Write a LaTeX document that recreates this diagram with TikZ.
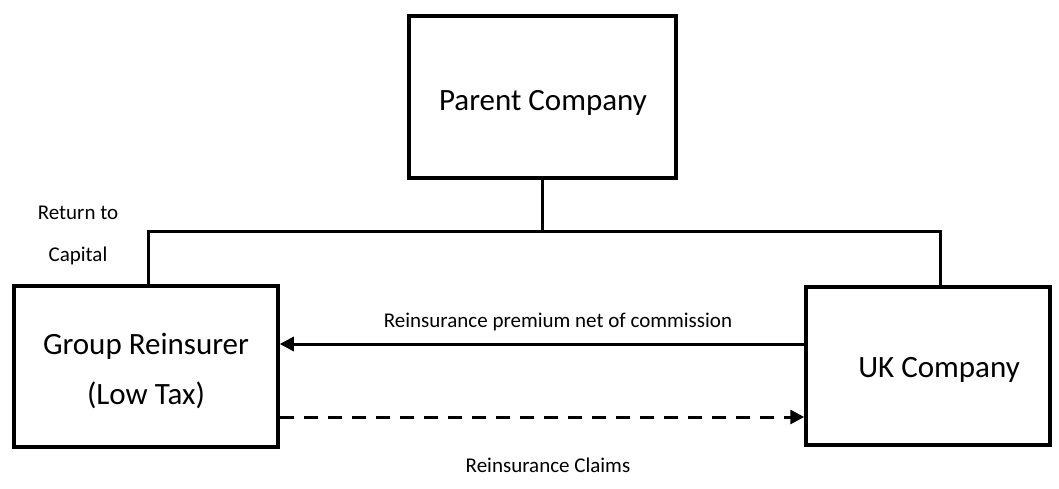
\documentclass[tikz,border=0pt]{standalone}
\usepackage{fontspec}
\setmainfont{Carlito}
\usetikzlibrary{arrows.meta}
\begin{document}
\begin{tikzpicture}[x=1pt,y=-1pt,
  entity/.style={draw, line width=3.5pt, inner sep=0pt},
  caption/.style={font=\fontsize{31}{38}\selectfont, anchor=base},
  link/.style={line width=3pt},
  flow/.style={line width=3pt, -{Triangle[length=14pt,width=14pt]}},
  smalltext/.style={font=\fontsize{21}{25}\selectfont, inner sep=0pt, anchor=base}]
\useasboundingbox (0,0) rectangle (1059,489);
\fill[white] (0,0) rectangle (1059,489);
% company boxes
\node[entity, minimum width=267pt, minimum height=162pt] (parent) at (542.5,97) {};
\node[entity, minimum width=264pt, minimum height=161pt] (group) at (146,366.5) {};
\node[entity, minimum width=244pt, minimum height=158pt] (uk) at (928,366) {};
% box captions
\node[caption] (parentlbl) at (543,111) {Parent Company};
\node[caption] (grouplbl1) at (146,354) {Group Reinsurer};
\node[caption] (grouplbl2) at (146,404) {(Low Tax)};
\node[caption] (uklbl) at (939,377) {UK Company};
% ownership tree
\coordinate (bus) at (parent.south |- 0,231);
\coordinate (busL) at (148,231);
\coordinate (busR) at (940,231);
\draw[link] (parent.south) -- (bus);
\draw[link] (group.north -| busL) -- (busL) -- (busR) -- (uk.north -| busR);
% flows
\draw[flow] (uk.west |- 0,344) -- (group.east |- 0,344);
\draw[flow, dashed, dash pattern=on 14pt off 10pt] (group.east |- 0,417) -- (uk.west |- 0,417);
% labels
\node[smalltext] (ret1) at (78,219) {Return to};
\node[smalltext] (ret2) at (78,261) {Capital};
\node[smalltext] (prem) at (558,327) {Reinsurance premium net of commission};
\node[smalltext] (claims) at (548,472) {Reinsurance Claims};
\end{tikzpicture}
\end{document}
